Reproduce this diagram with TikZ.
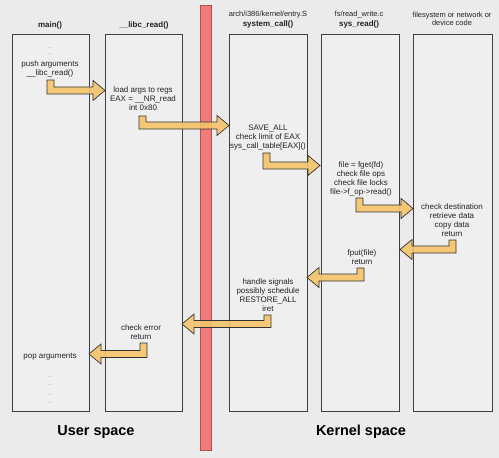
\documentclass[tikz,border=0pt]{standalone}
\usepackage{fontspec}
\setmainfont{Liberation Sans}
\definecolor{bgc}{HTML}{EBEBEB}
\definecolor{boxc}{HTML}{EFEFEF}
\definecolor{linec}{HTML}{404040}
\definecolor{barfill}{HTML}{EF7B7B}
\definecolor{barline}{HTML}{B84E4E}
\definecolor{arrfill}{HTML}{F5C46A}
\definecolor{txtc}{HTML}{222222}
\newcommand\fatR[5]{% name, stub-left x, stub top y, shaft centre y, tip x
  \coordinate (#1s) at (#2,#3); \coordinate (#1e) at (#5,#4);
  \draw[fatarrow] (#1s) -- ({#2+7},#3) -- ({#2+7},{#4-3.5}) -- ({#5-12},{#4-3.5})
    -- ({#5-12},{#4-10}) -- (#1e) -- ({#5-12},{#4+10}) -- ({#5-12},{#4+3.5})
    -- (#2,{#4+3.5}) -- cycle;}
\newcommand\fatL[5]{% name, stub-right x, stub top y, shaft centre y, tip x
  \coordinate (#1s) at (#2,#3); \coordinate (#1e) at (#5,#4);
  \draw[fatarrow] (#1s) -- ({#2-7},#3) -- ({#2-7},{#4-3.5}) -- ({#5+12},{#4-3.5})
    -- ({#5+12},{#4-10}) -- (#1e) -- ({#5+12},{#4+10}) -- ({#5+12},{#4+3.5})
    -- (#2,{#4+3.5}) -- cycle;}
\begin{document}
\begin{tikzpicture}[x=1bp,y=-1bp,
  lane/.style={draw=linec, line width=0.8bp, fill=boxc},
  fatarrow/.style={draw=black!80, line width=0.7bp, fill=arrfill, fill opacity=0.9, draw opacity=1, line join=miter},
  txt/.style={text=txtc, font=\fontsize{8}{9}\selectfont, align=center, inner sep=0pt},
  dots/.style={text=black!45, font=\fontsize{5}{5}\selectfont, inner sep=0pt},
  head/.style={text=txtc, font=\fontsize{8}{9}\selectfont\bfseries, align=center, inner sep=0pt},
  subhead/.style={text=txtc, font=\fontsize{7.5}{8}\selectfont, align=center, inner sep=0pt},
  space/.style={text=black, font=\fontsize{14.5}{16}\selectfont\bfseries, inner sep=0pt}]
\fill[bgc] (0,0) rectangle (499,458);
\useasboundingbox (0,0) rectangle (499,458);
% lanes
\draw[lane] (12,34) rectangle (89,411);
\draw[lane] (105,34) rectangle (182,411);
\draw[lane] (229,34) rectangle (307,411);
\draw[lane] (321,34) rectangle (399,411);
\draw[lane] (413,34) rectangle (492,411);
% user/kernel border bar
\draw[fill=barfill, draw=barline, line width=0.8bp] (200,5) rectangle (211,450);
% headers
\node[head] (hmain) at (50,25) {main()};
\node[head] (hlibc) at (144,25) {\_\_libc\_read()};
\node[subhead] (hsysa) at (268,15) {arch/i386/kernel/entry.S};
\node[head] (hsysb) at (268,24) {system\_call()};
\node[subhead] (hreada) at (359,15) {fs/read\_write.c};
\node[head] (hreadb) at (359,24) {sys\_read()};
\node[subhead] (hfs) at (452,18.5) {filesystem or network or\\device code};
% main texts
\node[dots] (d1) at (50,48) {...};
\node[dots] (d2) at (50,54) {...};
\node[txt] (m1) at (50,69) {push arguments\\\_\_libc\_read()};
\node[txt] (m2) at (50,357) {pop arguments};
\node[dots] (d3) at (50,377) {...};
\node[dots] (d4) at (50,385) {...};
\node[dots] (d5) at (50,395) {...};
\node[dots] (d6) at (50,403) {...};
% libc texts
\node[txt] (l1) at (143,99) {load args to regs\\EAX = \_\_NR\_read\\int 0x80};
\node[txt] (l2) at (141,332) {check error\\return};
% system_call texts
\node[txt] (s1) at (268,137.5) {SAVE\_ALL\\check limit of EAX\\sys\_call\_table[EAX]()};
\node[txt] (s2) at (268,295) {handle signals\\possibly schedule\\RESTORE\_ALL\\iret};
% sys_read texts
\node[txt] (r1) at (361,178.5) {file = fget(fd)\\check file ops\\check file locks\\file->f\_op->read()};
\node[txt] (r2) at (362,257) {fput(file)\\return};
% filesystem texts
\node[txt] (f1) at (452,220) {check destination\\retrieve data\\copy data\\return};
% call arrows
\fatR{a1}{47}{80}{90.5}{105}
\fatR{a2}{139}{116}{125.5}{229}
\fatR{a3}{263}{153}{165.5}{320}
\fatR{a4}{356}{198}{208.5}{413}
% return arrows
\fatL{b1}{456}{240}{249.5}{400}
\fatL{b2}{364}{268}{277.5}{307}
\fatL{b3}{271}{315}{324}{182}
\fatL{b4}{147}{343}{354}{89}
% space labels
\node[space] (us) at (96,432) {User space};
\node[space] (ks) at (361,432) {Kernel space};
\end{tikzpicture}
\end{document}
